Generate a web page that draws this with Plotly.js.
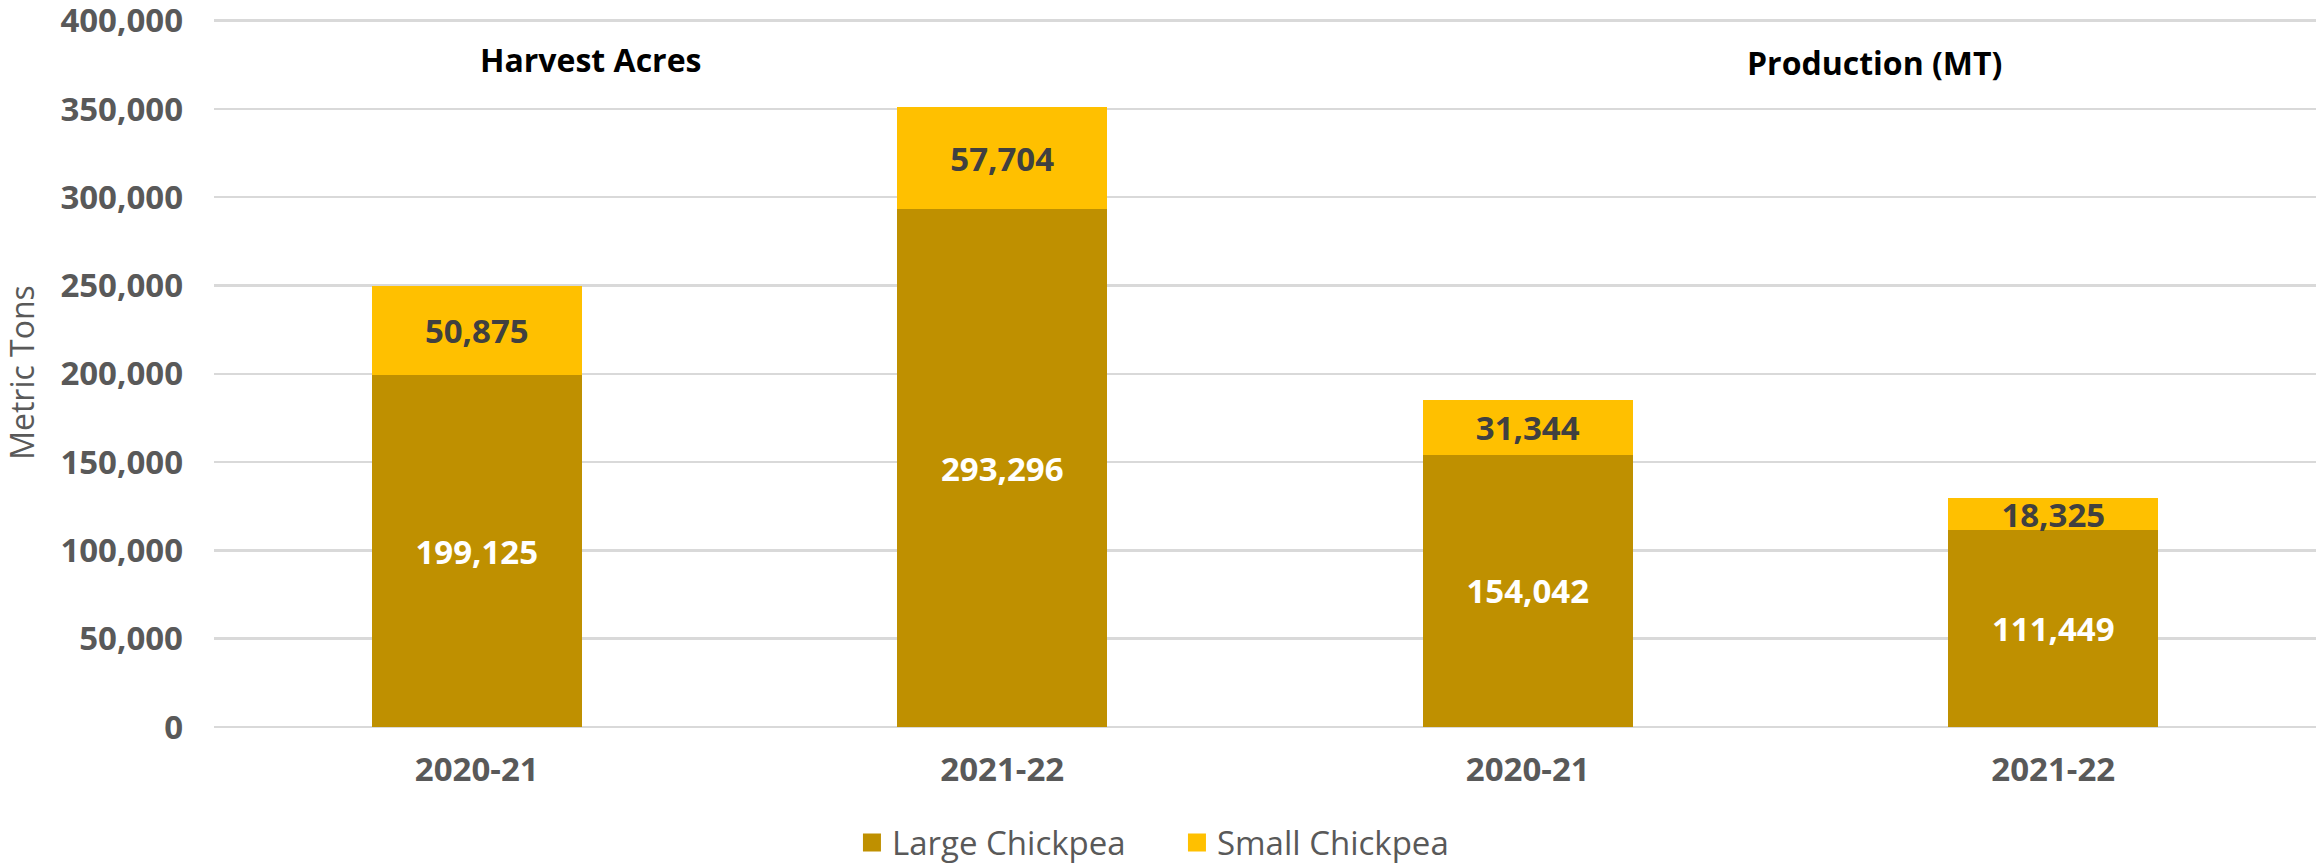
<!DOCTYPE html>
<html>
<head>
<meta charset="utf-8">
<script src="https://cdn.plot.ly/plotly-3.0.1.min.js"></script>
<style>html,body{margin:0;padding:0;background:#fff;}#chart{width:2318px;height:866px;}</style>
</head>
<body>
<div id="chart"></div>
<script>
// Data
const categories = ["Harvest Acres 2020-21", "Harvest Acres 2021-22", "Production 2020-21", "Production 2021-22"];
const seasonLabels = ["2020-21", "2021-22", "2020-21", "2021-22"];
const groupTitles = ["Harvest Acres", "Production (MT)"];
const largeChickpea = [199125, 293296, 154042, 111449];
const smallChickpea = [50875, 57704, 31344, 18325];
const seriesNames = ["Large Chickpea", "Small Chickpea"];
const tickValues = [0, 50000, 100000, 150000, 200000, 250000, 300000, 350000, 400000];

const FONT = "'Open Sans', 'Noto Sans', sans-serif";
const fmt = v => v.toLocaleString('en-US');

const traces = [
  {
    type: 'bar', name: seriesNames[0], x: categories, y: largeChickpea,
    marker: {color: '#BF9000'},
    text: largeChickpea.map(fmt), textposition: 'inside', insidetextanchor: 'middle',
    textfont: {family: FONT, size: 33, color: '#FFFFFF', weight: 'bold'},
    hoverinfo: 'skip'
  },
  {
    type: 'bar', name: seriesNames[1], x: categories, y: smallChickpea,
    marker: {color: '#FFC000'},
    text: smallChickpea.map(fmt), textposition: 'inside', insidetextanchor: 'middle',
    textfont: {family: FONT, size: 33, color: '#404040', weight: 'bold'},
    hoverinfo: 'skip'
  }
];

const layout = {
  width: 2318, height: 866,
  margin: {l: 214, r: 2, t: 18, b: 139, autoexpand: false},
  barmode: 'stack', bargap: 0.6,
  paper_bgcolor: '#FFFFFF', plot_bgcolor: '#FFFFFF',
  font: {family: FONT, color: '#595959'},
  uniformtext: {mode: 'show', minsize: 33},
  xaxis: {
    type: 'category', tickvals: categories, ticktext: seasonLabels,
    tickfont: {family: FONT, size: 33, color: '#595959', weight: 'bold'},
    showgrid: false, zeroline: false, showline: false, ticks: '',
    ticklabelstandoff: 20, automargin: false
  },
  yaxis: {
    range: [0, 401500], tickvals: tickValues, ticktext: tickValues.map(fmt),
    tickfont: {family: FONT, size: 33, color: '#595959', weight: 'bold'},
    showgrid: true, gridcolor: '#D9D9D9', gridwidth: 2.5,
    zeroline: true, zerolinecolor: '#D9D9D9', zerolinewidth: 2.5,
    showline: false, ticks: '', ticklabelstandoff: 30, automargin: false,
    ticklabeloverflow: 'allow',
    title: {text: 'Metric Tons', font: {family: FONT, size: 32, color: '#595959'}, standoff: 18}
  },
  showlegend: true,
  legend: {
    orientation: 'h', x: 0.3035, xanchor: 'left', y: -0.163, yanchor: 'middle',
    font: {family: FONT, size: 33, color: '#595959'}, traceorder: 'normal',
    entrywidth: 280, entrywidthmode: 'pixels'
  },
  annotations: [
    {text: groupTitles[0], xref: 'paper', yref: 'paper', x: 0.179, y: 0.941,
     xanchor: 'center', yanchor: 'middle', showarrow: false,
     font: {family: FONT, size: 32, color: '#000000', weight: 'bold'}},
    {text: groupTitles[1], xref: 'paper', yref: 'paper', x: 0.79, y: 0.937,
     xanchor: 'center', yanchor: 'middle', showarrow: false,
     font: {family: FONT, size: 32, color: '#000000', weight: 'bold'}}
  ]
};

Plotly.newPlot('chart', traces, layout, {displayModeBar: false, staticPlot: true}).then(gd => {
  // enlarge the legend swatches to match the reference's square markers
  gd.querySelectorAll('.legendpoints path').forEach(p => {
    const d = p.getAttribute('d') || '';
    if (/^M6,6H-6V-6H6Z$/.test(d)) p.setAttribute('d', 'M9,9H-9V-9H9Z');
  });
});
</script>
</body>
</html>
